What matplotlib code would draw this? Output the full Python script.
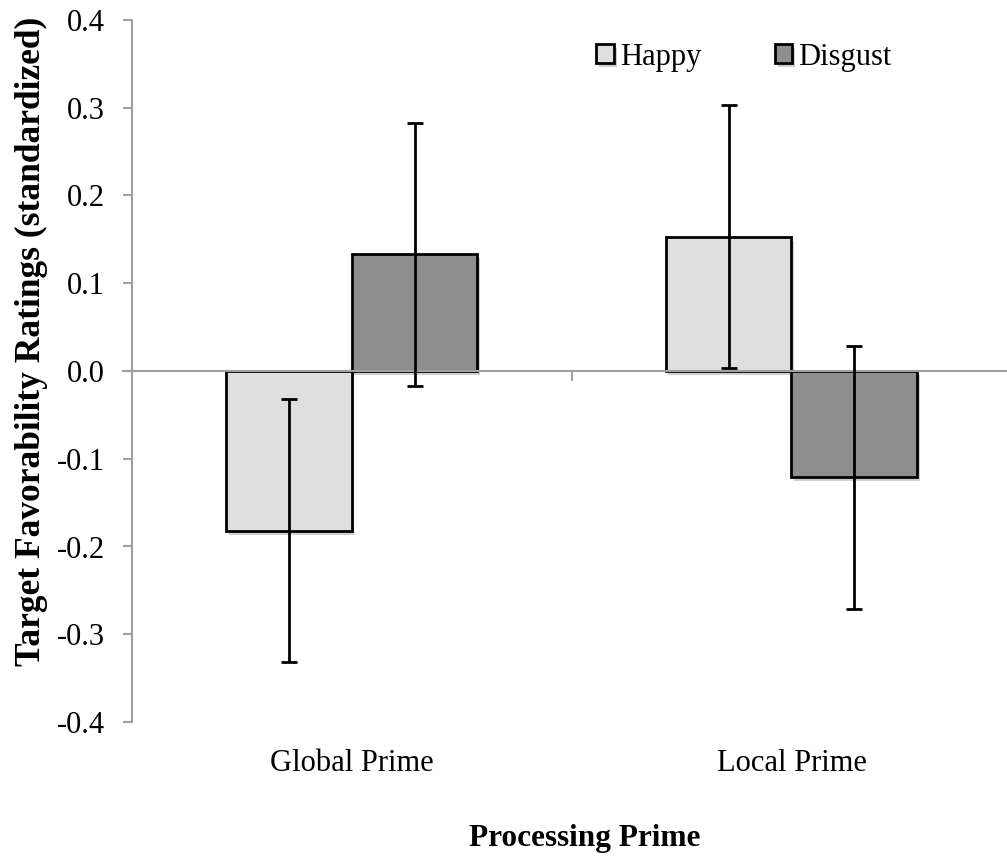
import matplotlib
matplotlib.use("Agg")
import matplotlib.pyplot as plt
import matplotlib.patheffects as pe
import numpy as np

plt.rcParams['font.family'] = ['Liberation Serif', 'DejaVu Serif']
plt.rcParams['axes.unicode_minus'] = False

# data
primes = ['Global Prime', 'Local Prime']
happy = [-0.182, 0.153]
disgust = [0.133, -0.121]
happy_err = [0.15, 0.15]
disgust_err = [0.15, 0.15]
yticks = [-0.4, -0.3, -0.2, -0.1, 0.0, 0.1, 0.2, 0.3, 0.4]

fig = plt.figure(figsize=(10.07, 8.63), dpi=100)
ax = fig.add_axes([123 / 1007, 141 / 863, 884 / 1007, 702 / 863])

x = np.arange(len(primes))
w = 0.286
shadow = [pe.SimplePatchShadow(offset=(2, -3), shadow_rgbFace='#777777', alpha=0.35), pe.Normal()]

b1 = ax.bar(x - w / 2, happy, w, color='#dfdfdf', edgecolor='black', linewidth=2,
            label='Happy', zorder=2)
b2 = ax.bar(x + w / 2, disgust, w, color='#8e8e8e', edgecolor='black', linewidth=2,
            label='Disgust', zorder=2)
for b in list(b1) + list(b2):
    b.set_path_effects(shadow)

ax.errorbar(x - w / 2, happy, yerr=happy_err, fmt='none', ecolor='black',
            elinewidth=2, capsize=6, capthick=2, zorder=4)
ax.errorbar(x + w / 2, disgust, yerr=disgust_err, fmt='none', ecolor='black',
            elinewidth=2, capsize=6, capthick=2, zorder=4)

ax.set_xlim(-0.52, 1.49)
ax.set_ylim(-0.4, 0.4)

for s in ['top', 'right']:
    ax.spines[s].set_visible(False)
ax.spines['left'].set_position(('data', -0.5))
ax.spines['bottom'].set_position(('data', 0))
for s in ['left', 'bottom']:
    ax.spines[s].set_color('#a0a0a0')
    ax.spines[s].set_linewidth(1.5)
    ax.spines[s].set_zorder(3)

ax.set_yticks(yticks)
ax.set_yticklabels(['%.1f' % v for v in yticks])
ax.tick_params(axis='y', length=6.5, width=1.5, color='#a0a0a0', labelsize=22, pad=13)
ax.set_xticks([0.5])
ax.set_xticklabels([''])
ax.tick_params(axis='x', length=7, width=1.5, color='#a0a0a0', direction='out')

for i, name in enumerate(primes):
    ax.text(i, -0.447, name, ha='center', va='center', fontsize=22, clip_on=False)

fig.text(31 / 1007, (863 - 341) / 863, 'Target Favorability Ratings (standardized)',
         rotation=90, ha='center', va='center', fontsize=25.5, fontweight='bold')
fig.text(585 / 1007, (863 - 838) / 863, 'Processing Prime', ha='center', va='center',
         fontsize=22.5, fontweight='bold')

ax.legend(loc='center', bbox_to_anchor=(744 / 1007, (863 - 57) / 863),
          bbox_transform=fig.transFigure, ncol=2, frameon=False, fontsize=22,
          handlelength=0.57, handleheight=0.57, handletextpad=0.2, columnspacing=2.4,
          borderaxespad=0)

fig.savefig('out.png', dpi=100)
